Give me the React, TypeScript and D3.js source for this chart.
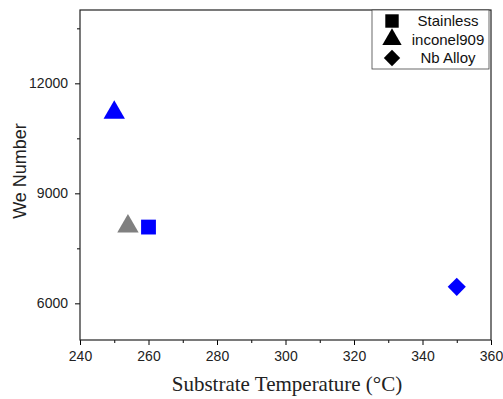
import { useEffect, useRef } from "react";
import * as d3 from "d3";

// data
const materials = ["Stainless", "inconel909", "Nb Alloy"];
const shapes = ["square", "triangle", "diamond"];
const temps = [260, 250, 254, 350];
const weNumbers = [8080, 11200, 8100, 6450];
const pointMaterial = ["Stainless", "inconel909", "inconel909", "Nb Alloy"];
const pointColors = ["#0000ff", "#0000ff", "#808080", "#0000ff"];
const xTicks = [240, 260, 280, 300, 320, 340, 360];
const yTicks = [6000, 9000, 12000];

const App = () => {
  const svgRef = useRef<SVGSVGElement>(null);

  useEffect(() => {
    const width = 503;
    const height = 399;
    const marginLeft = 80;
    const marginRight = 12;
    const marginTop = 10;
    const marginBottom = 59;

    const svg = d3.select(svgRef.current);
    svg.selectAll("*").remove();

    const x = d3.scaleLinear()
        .domain([240, 360])
        .range([marginLeft, width - marginRight]);

    const y = d3.scaleLinear()
        .domain([5000, 14000])
        .range([height - marginBottom, marginTop]);

    const symbolFor = (s: string, size: number) => {
      if (s === "square") return d3.symbol().type(d3.symbolSquare).size(size)();
      if (s === "triangle") return d3.symbol().type(d3.symbolTriangle).size(size * 0.9)();
      return d3.symbol().type(d3.symbolDiamond2).size(size * 0.95)();
    };

    const font = "Liberation Sans, Arial, sans-serif";

    // x axis
    svg.append("g")
        .attr("transform", `translate(0,${height - marginBottom})`)
        .call(d3.axisBottom(x).tickValues(d3.range(250, 360, 20)).tickSize(3).tickFormat(() => ""))
        .call(g => g.select(".domain").remove());
    svg.append("g")
        .attr("transform", `translate(0,${height - marginBottom})`)
        .call(d3.axisBottom(x).tickValues(xTicks).tickSize(5).tickPadding(6).tickFormat(d3.format("d")))
        .call(g => g.select(".domain").remove())
        .call(g => g.selectAll("text")
            .attr("font-family", font)
            .attr("font-size", 14)
            .attr("fill", "#222"));

    // y axis
    svg.append("g")
        .attr("transform", `translate(${marginLeft},0)`)
        .call(d3.axisLeft(y).tickValues([7500, 10500, 13500]).tickSize(3).tickFormat(() => ""))
        .call(g => g.select(".domain").remove());
    svg.append("g")
        .attr("transform", `translate(${marginLeft},0)`)
        .call(d3.axisLeft(y).tickValues(yTicks).tickSize(5).tickPadding(7).tickFormat(d3.format("d")))
        .call(g => g.select(".domain").remove())
        .call(g => g.selectAll("text")
            .attr("font-family", font)
            .attr("font-size", 14)
            .attr("fill", "#222"));

    // frame
    svg.append("rect")
        .attr("x", marginLeft)
        .attr("y", marginTop)
        .attr("width", width - marginLeft - marginRight)
        .attr("height", height - marginTop - marginBottom)
        .attr("fill", "none")
        .attr("stroke", "#222")
        .attr("stroke-width", 1.2);

    // axis titles
    svg.append("text")
        .attr("x", 287)
        .attr("y", 391)
        .attr("text-anchor", "middle")
        .attr("font-family", "Liberation Serif, Times New Roman, serif")
        .attr("font-size", 21)
        .attr("fill", "#222")
        .text("Substrate Temperature (\u00b0C)");

    svg.append("text")
        .attr("transform", `translate(26,171) rotate(-90)`)
        .attr("text-anchor", "middle")
        .attr("font-family", font)
        .attr("font-size", 18)
        .attr("fill", "#222")
        .text("We Number");

    // points
    svg.append("g")
      .selectAll("path")
      .data(temps)
      .join("path")
        .attr("transform", (d, i) => `translate(${x(d)},${y(weNumbers[i])})`)
        .attr("d", (d, i) => symbolFor(shapes[materials.indexOf(pointMaterial[i])], 220))
        .attr("fill", (d, i) => pointColors[i]);

    // legend
    const legend = svg.append("g");
    legend.append("rect")
        .attr("x", 372)
        .attr("y", marginTop)
        .attr("width", 117)
        .attr("height", 59)
        .attr("fill", "white")
        .attr("stroke", "#444")
        .attr("stroke-width", 0.8);
    materials.forEach((m, i) => {
      const cy = 21 + i * 18.5;
      legend.append("path")
          .attr("transform", `translate(392,${cy})`)
          .attr("d", symbolFor(shapes[i], 180))
          .attr("fill", "black");
      legend.append("text")
          .attr("x", 448)
          .attr("y", cy + 5)
          .attr("text-anchor", "middle")
          .attr("font-family", font)
          .attr("font-size", 15)
          .attr("fill", "#111")
          .text(m);
    });
  }, []);

  return (
    <svg ref={svgRef} width={503} height={399}
      style={{ position: "absolute", left: 0, top: 0, background: "white" }} />
  );
};

export default App;
